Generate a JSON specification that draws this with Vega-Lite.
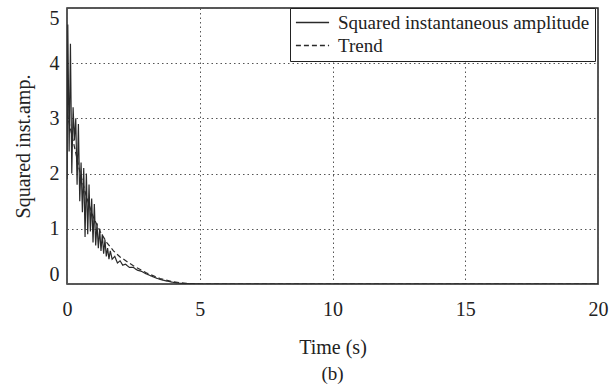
{
  "$schema": "https://vega.github.io/schema/vega-lite/v6.json",
  "width": 531,
  "height": 276,
  "autosize": {"type": "none"},
  "padding": {"left": 67, "top": 8, "right": 12, "bottom": 105},
  "config": {
    "font": "Liberation Serif",
    "view": {"stroke": "#222", "strokeWidth": 1.5},
    "axis": {
      "domain": false,
      "ticks": false,
      "grid": true,
      "gridDash": [1.5, 3],
      "gridColor": "#555",
      "gridWidth": 1,
      "labelFont": "Liberation Serif",
      "titleFont": "Liberation Serif",
      "labelFontSize": 20,
      "labelColor": "#222",
      "titleFontSize": 20,
      "titleFontWeight": "normal",
      "titleColor": "#222"
    },
    "legend": {"labelFont": "Liberation Serif"},
    "title": {"font": "Liberation Serif"}
  },
  "title": {"text": "(b)", "orient": "bottom", "anchor": "middle", "fontSize": 19, "fontWeight": "normal", "color": "#222", "offset": 8},
  "data": {
    "values": [
      {"t": 0.0, "v": 1.9, "s": "Squared instantaneous amplitude"},
      {"t": 0.03, "v": 4.7, "s": "Squared instantaneous amplitude"},
      {"t": 0.08, "v": 2.4, "s": "Squared instantaneous amplitude"},
      {"t": 0.13, "v": 4.35, "s": "Squared instantaneous amplitude"},
      {"t": 0.18, "v": 2.0, "s": "Squared instantaneous amplitude"},
      {"t": 0.23, "v": 3.2, "s": "Squared instantaneous amplitude"},
      {"t": 0.28, "v": 2.6, "s": "Squared instantaneous amplitude"},
      {"t": 0.33, "v": 3.0, "s": "Squared instantaneous amplitude"},
      {"t": 0.38, "v": 1.8, "s": "Squared instantaneous amplitude"},
      {"t": 0.43, "v": 2.9, "s": "Squared instantaneous amplitude"},
      {"t": 0.48, "v": 1.5, "s": "Squared instantaneous amplitude"},
      {"t": 0.53, "v": 2.2, "s": "Squared instantaneous amplitude"},
      {"t": 0.58, "v": 1.3, "s": "Squared instantaneous amplitude"},
      {"t": 0.63, "v": 2.1, "s": "Squared instantaneous amplitude"},
      {"t": 0.68, "v": 0.85, "s": "Squared instantaneous amplitude"},
      {"t": 0.73, "v": 2.0, "s": "Squared instantaneous amplitude"},
      {"t": 0.78, "v": 0.9, "s": "Squared instantaneous amplitude"},
      {"t": 0.83, "v": 1.8, "s": "Squared instantaneous amplitude"},
      {"t": 0.88, "v": 0.95, "s": "Squared instantaneous amplitude"},
      {"t": 0.93, "v": 1.55, "s": "Squared instantaneous amplitude"},
      {"t": 0.98, "v": 0.75, "s": "Squared instantaneous amplitude"},
      {"t": 1.03, "v": 1.45, "s": "Squared instantaneous amplitude"},
      {"t": 1.08, "v": 0.7, "s": "Squared instantaneous amplitude"},
      {"t": 1.13, "v": 1.1, "s": "Squared instantaneous amplitude"},
      {"t": 1.18, "v": 0.65, "s": "Squared instantaneous amplitude"},
      {"t": 1.23, "v": 1.0, "s": "Squared instantaneous amplitude"},
      {"t": 1.28, "v": 0.6, "s": "Squared instantaneous amplitude"},
      {"t": 1.33, "v": 0.9, "s": "Squared instantaneous amplitude"},
      {"t": 1.38, "v": 0.55, "s": "Squared instantaneous amplitude"},
      {"t": 1.43, "v": 0.8, "s": "Squared instantaneous amplitude"},
      {"t": 1.48, "v": 0.5, "s": "Squared instantaneous amplitude"},
      {"t": 1.53, "v": 0.65, "s": "Squared instantaneous amplitude"},
      {"t": 1.58, "v": 0.45, "s": "Squared instantaneous amplitude"},
      {"t": 1.63, "v": 0.6, "s": "Squared instantaneous amplitude"},
      {"t": 1.7, "v": 0.45, "s": "Squared instantaneous amplitude"},
      {"t": 1.8, "v": 0.5, "s": "Squared instantaneous amplitude"},
      {"t": 1.9, "v": 0.38, "s": "Squared instantaneous amplitude"},
      {"t": 2.0, "v": 0.42, "s": "Squared instantaneous amplitude"},
      {"t": 2.1, "v": 0.34, "s": "Squared instantaneous amplitude"},
      {"t": 2.2, "v": 0.36, "s": "Squared instantaneous amplitude"},
      {"t": 2.35, "v": 0.3, "s": "Squared instantaneous amplitude"},
      {"t": 2.5, "v": 0.3, "s": "Squared instantaneous amplitude"},
      {"t": 2.65, "v": 0.25, "s": "Squared instantaneous amplitude"},
      {"t": 2.8, "v": 0.23, "s": "Squared instantaneous amplitude"},
      {"t": 3.0, "v": 0.18, "s": "Squared instantaneous amplitude"},
      {"t": 3.2, "v": 0.14, "s": "Squared instantaneous amplitude"},
      {"t": 3.4, "v": 0.1, "s": "Squared instantaneous amplitude"},
      {"t": 3.6, "v": 0.07, "s": "Squared instantaneous amplitude"},
      {"t": 3.8, "v": 0.05, "s": "Squared instantaneous amplitude"},
      {"t": 4.0, "v": 0.03, "s": "Squared instantaneous amplitude"},
      {"t": 4.3, "v": 0.01, "s": "Squared instantaneous amplitude"},
      {"t": 4.6, "v": 0.005, "s": "Squared instantaneous amplitude"},
      {"t": 5.0, "v": 0.0, "s": "Squared instantaneous amplitude"},
      {"t": 20.0, "v": 0.0, "s": "Squared instantaneous amplitude"},
      {"t": 0.0, "v": 3.1, "s": "Trend"},
      {"t": 0.25, "v": 2.55, "s": "Trend"},
      {"t": 0.5, "v": 2.0, "s": "Trend"},
      {"t": 0.75, "v": 1.55, "s": "Trend"},
      {"t": 1.0, "v": 1.2, "s": "Trend"},
      {"t": 1.25, "v": 0.95, "s": "Trend"},
      {"t": 1.5, "v": 0.75, "s": "Trend"},
      {"t": 1.75, "v": 0.6, "s": "Trend"},
      {"t": 2.0, "v": 0.49, "s": "Trend"},
      {"t": 2.5, "v": 0.33, "s": "Trend"},
      {"t": 3.0, "v": 0.2, "s": "Trend"},
      {"t": 3.5, "v": 0.1, "s": "Trend"},
      {"t": 4.0, "v": 0.04, "s": "Trend"},
      {"t": 4.5, "v": 0.01, "s": "Trend"},
      {"t": 5.0, "v": 0.0, "s": "Trend"},
      {"t": 20.0, "v": 0.0, "s": "Trend"}
    ]
  },
  "mark": {"type": "line", "strokeWidth": 1.2, "clip": true},
  "encoding": {
    "x": {
      "field": "t", "type": "quantitative",
      "scale": {"domain": [0, 20], "nice": false},
      "axis": {"title": "Time (s)", "values": [0, 5, 10, 15, 20], "labelFlush": false, "labelPadding": 15, "titlePadding": 18}
    },
    "y": {
      "field": "v", "type": "quantitative",
      "scale": {"domain": [0, 5], "nice": false},
      "axis": {"title": "Squared inst.amp.", "values": [0, 1, 2, 3, 4, 5], "labelFlush": true, "labelPadding": 8, "titlePadding": 16}
    },
    "color": {
      "field": "s", "type": "nominal",
      "scale": {"domain": ["Squared instantaneous amplitude", "Trend"], "range": ["#2a2a2a", "#2a2a2a"]},
      "legend": {"title": null}
    },
    "strokeDash": {
      "field": "s", "type": "nominal",
      "scale": {"domain": ["Squared instantaneous amplitude", "Trend"], "range": [[1, 0], [5, 3]]},
      "legend": {
        "title": null,
        "orient": "none",
        "legendX": 223,
        "legendY": 0,
        "strokeColor": "#222",
        "fillColor": "white",
        "padding": 5,
        "rowPadding": 3,
        "labelFontSize": 19,
        "labelColor": "#222",
        "labelLimit": 0,
        "symbolType": "stroke",
        "symbolSize": 1100,
        "clipHeight": 19,
        "symbolStrokeWidth": 1.5,
        "labelOffset": 8
      }
    }
  }
}
